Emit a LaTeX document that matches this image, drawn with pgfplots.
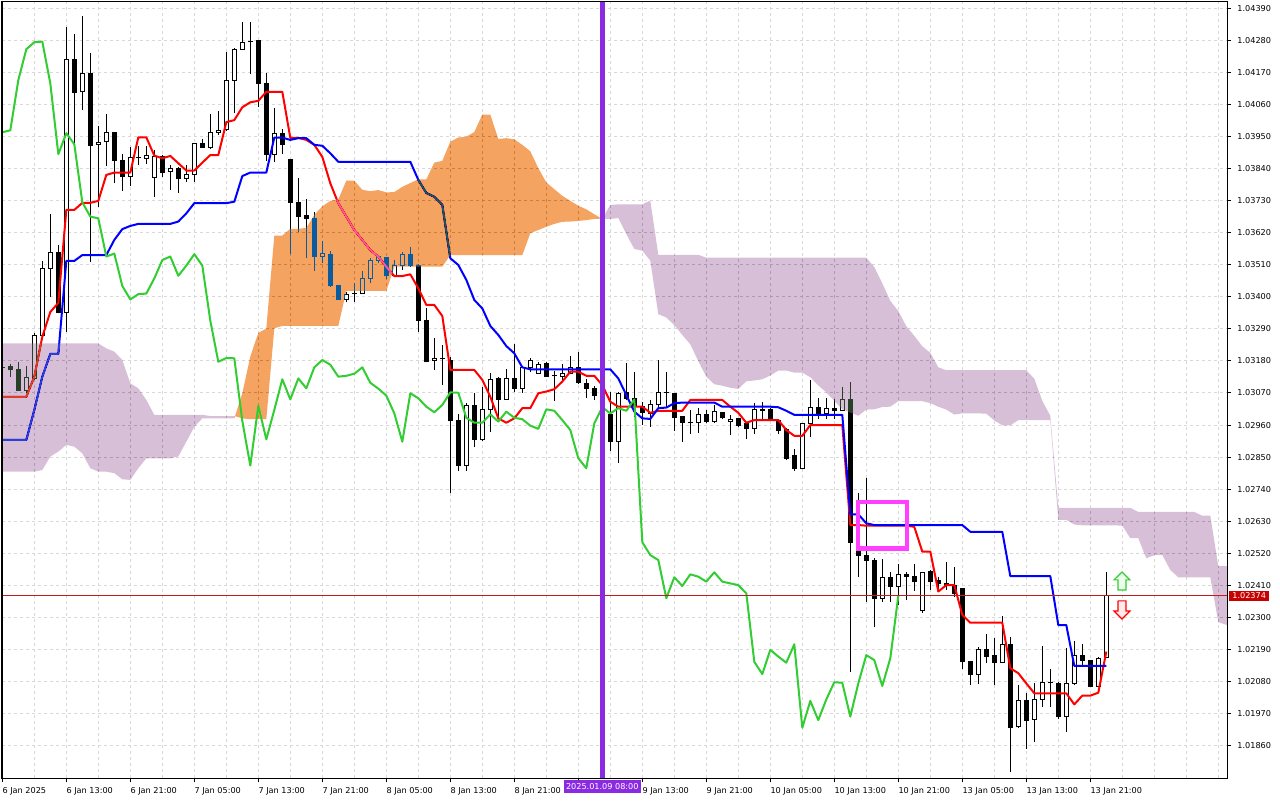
\documentclass[border=0pt]{standalone}
\usepackage{pgfplots}
\pgfplotsset{compat=1.18}
\usepackage{pgfplotstable}
\usepackage{fontspec}
\newfontfamily\tf{DejaVu Sans}
\definecolor{gridc}{RGB}{216,216,216}
\definecolor{kumoup}{RGB}{11,91,159}
\definecolor{kumodn}{RGB}{39,64,39}
\definecolor{vline}{RGB}{138,43,226}
\definecolor{chik}{RGB}{50,205,50}
\definecolor{mag}{RGB}{255,64,255}
\definecolor{pricered}{RGB}{200,0,0}
\definecolor{bidline}{RGB}{190,30,30}

\pgfplotstableread{
i o h l c
3 1.03080 1.03163 1.03071 1.03124
4 1.03120 1.03277 1.03115 1.03267
5 1.03267 1.03524 1.03258 1.03498
6 1.03498 1.03684 1.03398 1.03553
8 1.03347 1.04324 1.03280 1.04215
10 1.04103 1.04363 1.04041 1.04167
12 1.03923 1.03986 1.03709 1.03930
13 1.03932 1.04027 1.03849 1.03964
16 1.03812 1.03915 1.03781 1.03878
18 1.03875 1.03917 1.03855 1.03885
19 1.03810 1.03903 1.03741 1.03880
21 1.03830 1.03852 1.03766 1.03841
23 1.03806 1.03852 1.03795 1.03821
24 1.03821 1.03927 1.03795 1.03924
26 1.03913 1.04027 1.03907 1.03964
27 1.03963 1.04037 1.03955 1.03971
28 1.03972 1.04241 1.03970 1.04143
29 1.04143 1.04254 1.04029 1.04249
30 1.04249 1.04342 1.04247 1.04273
34 1.03889 1.04047 1.03861 1.03961
40 1.03539 1.03591 1.03515 1.03548
43 1.03392 1.03418 1.03381 1.03409
45 1.03412 1.03488 1.03410 1.03463
46 1.03463 1.03532 1.03448 1.03526
47 1.03524 1.03543 1.03517 1.03538
49 1.03472 1.03526 1.03469 1.03507
50 1.03507 1.03555 1.03492 1.03546
54 1.03183 1.03258 1.03149 1.03190
58 1.02820 1.03035 1.02804 1.03026
60 1.02909 1.03092 1.02906 1.03012
61 1.03012 1.03140 1.02937 1.03117
63 1.03048 1.03151 1.03046 1.03120
65 1.03086 1.03160 1.03071 1.03158
66 1.03158 1.03191 1.03143 1.03183
67 1.03138 1.03175 1.03135 1.03167
70 1.03128 1.03169 1.03112 1.03136
71 1.03138 1.03197 1.03135 1.03158
77 1.02903 1.03075 1.02831 1.03069
81 1.03000 1.03046 1.02954 1.03029
82 1.03029 1.03183 1.03023 1.03072
87 1.02968 1.03018 1.02934 1.02997
89 1.02972 1.03029 1.02968 1.03006
91 1.02973 1.02995 1.02926 1.02980
94 1.02949 1.03037 1.02929 1.03014
100 1.02812 1.02968 1.02808 1.02966
101 1.02966 1.03115 1.02920 1.03021
103 1.03000 1.03052 1.02981 1.03018
105 1.03009 1.03092 1.03009 1.03048
110 1.02366 1.02501 1.02354 1.02438
112 1.02408 1.02484 1.02343 1.02448
115 1.02323 1.02457 1.02316 1.02455
122 1.02106 1.02198 1.02072 1.02189
125 1.02145 1.02305 1.02143 1.02208
127 1.01925 1.02068 1.01922 1.02014
129 1.01951 1.02076 1.01874 1.02019
130 1.02019 1.02202 1.01994 1.02078
133 1.01960 1.02194 1.01908 1.02074
134 1.02074 1.02220 1.02068 1.02171
137 1.02065 1.02165 1.02063 1.02160
138 1.02164 1.02457 1.02164 1.02374
}\bull

\pgfplotstableread{
i o h l c
0 1.03157 1.03160 1.03153 1.03157
1 1.03160 1.03170 1.03126 1.03149
2 1.03149 1.03177 1.03078 1.03080
7 1.03553 1.03578 1.03343 1.03347
9 1.04215 1.04301 1.03927 1.04101
11 1.04167 1.04237 1.03520 1.03918
14 1.03964 1.03966 1.03789 1.03867
15 1.03869 1.03890 1.03764 1.03812
17 1.03878 1.03917 1.03852 1.03878
20 1.03880 1.03886 1.03812 1.03826
22 1.03841 1.03846 1.03757 1.03804
25 1.03924 1.03940 1.03909 1.03913
31 1.04275 1.04342 1.04163 1.04275
32 1.04278 1.04278 1.04050 1.04132
33 1.04132 1.04167 1.03867 1.03889
35 1.03961 1.03976 1.03889 1.03923
36 1.03872 1.03872 1.03546 1.03724
37 1.03724 1.03806 1.03621 1.03675
38 1.03678 1.03735 1.03532 1.03669
39 1.03667 1.03690 1.03490 1.03538
41 1.03546 1.03557 1.03435 1.03437
42 1.03437 1.03440 1.03389 1.03391
44 1.03411 1.03446 1.03383 1.03411
48 1.03535 1.03538 1.03460 1.03472
51 1.03546 1.03570 1.03501 1.03507
52 1.03507 1.03512 1.03280 1.03318
53 1.03318 1.03360 1.03175 1.03177
55 1.03189 1.03235 1.03097 1.03189
56 1.03181 1.03195 1.02726 1.02974
57 1.02974 1.02997 1.02804 1.02821
59 1.03026 1.03069 1.02884 1.02911
62 1.03120 1.03126 1.02983 1.03048
64 1.03120 1.03237 1.03075 1.03086
68 1.03172 1.03177 1.03124 1.03126
69 1.03129 1.03146 1.03044 1.03129
72 1.03158 1.03210 1.03101 1.03105
73 1.03103 1.03118 1.03052 1.03085
74 1.03086 1.03095 1.03046 1.03061
75 1.03061 1.03097 1.02990 1.03000
76 1.02995 1.03075 1.02872 1.02903
78 1.03072 1.03172 1.03046 1.03052
79 1.03052 1.03142 1.02989 1.03023
80 1.03023 1.03040 1.02960 1.03004
83 1.03071 1.03141 1.03023 1.03071
84 1.03069 1.03069 1.02941 1.02985
85 1.02991 1.02991 1.02903 1.02968
86 1.02968 1.03012 1.02929 1.02968
88 1.02997 1.03012 1.02966 1.02972
90 1.03004 1.03006 1.02980 1.02985
92 1.02981 1.02983 1.02952 1.02958
93 1.02964 1.02968 1.02912 1.02947
95 1.03014 1.03040 1.02977 1.03009
96 1.03012 1.03018 1.02975 1.02977
97 1.02977 1.02981 1.02928 1.02943
98 1.02946 1.02949 1.02840 1.02846
99 1.02854 1.02878 1.02804 1.02812
102 1.03021 1.03052 1.02981 1.03000
104 1.03018 1.03048 1.02981 1.03009
106 1.03048 1.03109 1.02114 1.02558
107 1.02531 1.02726 1.02440 1.02514
108 1.02514 1.02777 1.02354 1.02497
109 1.02497 1.02503 1.02266 1.02366
111 1.02438 1.02457 1.02354 1.02408
113 1.02449 1.02457 1.02360 1.02440
114 1.02442 1.02484 1.02392 1.02423
116 1.02457 1.02463 1.02394 1.02423
117 1.02426 1.02440 1.02389 1.02417
118 1.02417 1.02491 1.02394 1.02411
119 1.02411 1.02474 1.02371 1.02383
120 1.02398 1.02398 1.02122 1.02148
121 1.02148 1.02148 1.02068 1.02106
123 1.02189 1.02243 1.02143 1.02166
124 1.02169 1.02231 1.02068 1.02145
126 1.02206 1.02234 1.01769 1.01922
128 1.02014 1.02040 1.01849 1.01948
131 1.02076 1.02123 1.01994 1.02076
132 1.02074 1.02080 1.01951 1.01960
135 1.02171 1.02209 1.02131 1.02154
136 1.02154 1.02154 1.02063 1.02065
}\bear

\begin{document}
\begin{tikzpicture}
\fill[white] (-1.5pt,-16.5pt) rectangle (958.5pt,583.5pt);
\useasboundingbox (-1.5pt,-16.5pt) rectangle (958.5pt,583.5pt);
\begin{axis}[
  at={(0pt,0pt)}, anchor=south west,
  scale only axis, width=918.75pt, height=582pt,
  xmin=-0.04, xmax=153.09, ymin=1.017495, ymax=1.04411,
  clip mode=individual,
  axis line style={line width=0.75pt, black},
  tick align=outside, major tick length=3pt, minor tick length=0pt,
  major tick style={line width=0.75pt, black},
  xtick pos=bottom, ytick pos=right, yticklabel pos=right,
  xtick={0,8,16,24,32,40,48,56,64,72,80,88,96,104,112,120,128,136},
  xticklabels={6 Jan 2025,6 Jan 13:00,6 Jan 21:00,7 Jan 05:00,7 Jan 13:00,7 Jan 21:00,8 Jan 05:00,8 Jan 13:00,8 Jan 21:00,{},9 Jan 13:00,9 Jan 21:00,10 Jan 05:00,10 Jan 13:00,10 Jan 21:00,13 Jan 05:00,13 Jan 13:00,13 Jan 21:00},
  minor xtick={4,8,12,16,20,24,28,32,36,40,44,48,52,56,60,64,68,72,76,80,84,88,92,96,100,104,108,112,116,120,124,128,132,136,140,144,148,152},
  ytick={1.0186,1.0197,1.0208,1.0219,1.0230,1.0241,1.0252,1.0263,1.0274,1.0285,1.0296,1.0307,1.0318,1.0329,1.0340,1.0351,1.0362,1.0373,1.0384,1.0395,1.0406,1.0417,1.0428,1.0439},
  yticklabels={1.01860,1.01970,1.02080,1.02190,1.02300,1.02410,1.02520,1.02630,1.02740,1.02850,1.02960,1.03070,1.03180,1.03290,1.03400,1.03510,1.03620,1.03730,1.03840,1.03950,1.04060,1.04170,1.04280,1.04390},
  xmajorgrids=false, xminorgrids=true, ymajorgrids=true,
  major grid style={gridc, line width=0.75pt, dash pattern=on 2.25pt off 2.25pt},
  minor grid style={gridc, line width=0.75pt, dash pattern=on 2.25pt off 2.25pt},
  tick label style={font=\tf\fontsize{6.1}{7}\selectfont, inner sep=0pt},
  xticklabel style={anchor=north west, yshift=-4pt},
  yticklabel style={anchor=west, xshift=4.6pt},
]
% wicks
\addplot[draw=none, error bars/.cd, y dir=plus, y explicit, error mark=none,
  error bar style={draw=black, line width=0.75pt}]
  table[x=i, y=l, y error plus expr=\thisrow{h}-\thisrow{l}] {\bull};
\addplot[draw=none, error bars/.cd, y dir=plus, y explicit, error mark=none,
  error bar style={draw=black, line width=0.75pt}]
  table[x=i, y=l, y error plus expr=\thisrow{h}-\thisrow{l}] {\bear};
% bodies
\addplot[draw=none, error bars/.cd, y dir=plus, y explicit, error mark=none,
  error bar style={draw=black, line width=3.75pt}]
  table[x=i, y expr=\thisrow{o}-0.0000172, y error plus expr=\thisrow{c}-\thisrow{o}+0.0000343] {\bull};
\addplot[draw=none, error bars/.cd, y dir=plus, y explicit, error mark=none,
  error bar style={draw=white, line width=2.25pt}]
  table[x=i, y expr=\thisrow{o}+0.0000172, y error plus expr=\thisrow{c}-\thisrow{o}-0.0000343] {\bull};
\addplot[draw=none, error bars/.cd, y dir=plus, y explicit, error mark=none,
  error bar style={draw=black, line width=3.75pt}]
  table[x=i, y expr=\thisrow{c}-0.0000172, y error plus expr=\thisrow{o}-\thisrow{c}+0.0000343] {\bear};
% tenkan
\addplot[red, line width=1.5pt, line join=round] coordinates {
(0,1.03057)(3,1.03057)(4,1.03126)(5,1.03263)(6,1.03348)(7,1.03379)(8,1.03698)(9,1.03698)(10,1.03722)(11,1.03722)(12,1.03729)(13,1.03818)(14,1.03826)(16,1.03826)(17,1.03947)(18,1.03947)(19,1.03884)(20,1.03875)(21,1.03883)(22,1.03858)(23,1.03833)(24,1.03833)(25,1.03860)(26,1.03886)(27,1.03886)(28,1.03999)(29,1.04006)(30,1.04050)(31,1.04067)(32,1.04072)(33,1.04103)(35,1.04103)(36,1.03945)(37,1.03945)(38,1.03938)(39,1.03921)(40,1.03880)(41,1.03789)(42,1.03721)(43,1.03675)(44,1.03629)(45,1.03595)(46,1.03560)(47,1.03538)(48,1.03503)(49,1.03471)(50,1.03471)(51,1.03477)(52,1.03429)(53,1.03372)(54,1.03372)(55,1.03334)(56,1.03149)(59,1.03149)(60,1.03115)(61,1.03057)(62,1.02983)(63,1.02968)(64,1.02983)(65,1.03018)(66,1.03018)(67,1.03069)(68,1.03075)(69,1.03083)(70,1.03109)(71,1.03143)(72,1.03143)(73,1.03129)(74,1.03129)(75,1.03097)(76,1.03040)(77,1.03023)(80,1.03023)(81,1.03002)(82,1.03009)(85,1.03009)(86,1.03046)(90,1.03046)(91,1.03023)(92,1.03002)(93,1.02968)(94,1.02977)(97,1.02977)(98,1.02943)(99,1.02923)(100,1.02923)(101,1.02960)(105,1.02960)(106,1.02617)(107,1.02617)(108,1.02615)(113,1.02615)(114,1.02611)(115,1.02526)(116,1.02526)(117,1.02389)(118,1.02411)(119,1.02411)(120,1.02309)(121,1.02282)(125,1.02282)(126,1.02126)(127,1.02109)(128,1.02074)(129,1.02040)(133,1.02040)(134,1.02002)(135,1.02032)(136,1.02032)(137,1.02042)(138,1.02183)};
% kijun
\addplot[blue, line width=1.5pt, line join=round] coordinates {
(0,1.02909)(3,1.02909)(4,1.03012)(5,1.03126)(6,1.03204)(7,1.03204)(8,1.03523)(9,1.03523)(10,1.03543)(13,1.03543)(14,1.03595)(15,1.03632)(16,1.03643)(17,1.03650)(21,1.03650)(22,1.03658)(23,1.03686)(24,1.03721)(28,1.03721)(29,1.03726)(30,1.03814)(31,1.03826)(33,1.03826)(34,1.03946)(35,1.03946)(36,1.03938)(37,1.03944)(38,1.03944)(39,1.03921)(40,1.03918)(41,1.03892)(42,1.03863)(51,1.03863)(52,1.03801)(53,1.03756)(54,1.03743)(55,1.03715)(56,1.03532)(57,1.03509)(58,1.03458)(59,1.03389)(60,1.03360)(61,1.03300)(62,1.03269)(63,1.03231)(64,1.03206)(65,1.03158)(66,1.03151)(76,1.03151)(77,1.03120)(78,1.03063)(79,1.03006)(80,1.02983)(81,1.02981)(82,1.03018)(83,1.03020)(84,1.03035)(85,1.03037)(89,1.03037)(90,1.03023)(96,1.03023)(97,1.03021)(98,1.03009)(99,1.02995)(105,1.02995)(106,1.02654)(107,1.02654)(108,1.02623)(109,1.02617)(120,1.02617)(121,1.02594)(125,1.02594)(126,1.02442)(131,1.02442)(132,1.02274)(133,1.02274)(134,1.02134)(138,1.02134)};
% kumo (drawn as in the terminal: difference blending)
\addplot[draw=none, fill=kumodn, blend mode=difference] coordinates {
(-1,1.03240)(12,1.03240)(13,1.03223)(14,1.03212)(15,1.03183)(16,1.03103)(17,1.03086)(18,1.03046)(19,1.02995)(25,1.02995)(26,1.02991)(29,1.02991)
(29,1.02983)(25,1.02983)(24,1.02954)(23,1.02903)(22,1.02852)(21,1.02846)(18,1.02846)(17,1.02812)(16,1.02772)(15,1.02774)(14,1.02795)(13,1.02800)(12,1.02800)(11,1.02812)(10,1.02863)(9,1.02886)(8,1.02892)(7,1.02869)(6,1.02852)(5,1.02806)(4,1.02800)(-1,1.02800)};
\addplot[draw=none, fill=kumoup, blend mode=difference] coordinates {
(29,1.02983)(30,1.03069)(31,1.03195)(32,1.03276)(33,1.03291)(34,1.03610)(35,1.03610)(36,1.03633)(37,1.03633)(38,1.03636)(39,1.03681)(40,1.03710)(41,1.03729)(42,1.03734)(43,1.03798)(44,1.03798)(45,1.03767)(46,1.03762)(47,1.03766)(48,1.03758)(49,1.03759)(50,1.03777)(51,1.03790)(52,1.03803)(53,1.03803)(54,1.03860)(55,1.03866)(56,1.03932)(57,1.03946)(58,1.03949)(59,1.03965)(60,1.04025)(61,1.04025)(62,1.03941)(63,1.03944)(64,1.03940)(65,1.03921)(66,1.03899)(67,1.03841)(68,1.03792)(69,1.03769)(70,1.03746)(71,1.03729)(72,1.03712)(73,1.03700)(74,1.03683)(75,1.03667)
(75,1.03668)(74,1.03667)(73,1.03663)(72,1.03660)(71,1.03658)(70,1.03657)(69,1.03650)(68,1.03640)(67,1.03629)(66,1.03618)(65,1.03543)(56,1.03543)(55,1.03503)(49,1.03503)(48,1.03420)(43,1.03420)(42,1.03300)(35,1.03300)(34,1.03292)(33,1.02980)(31,1.02980)(30,1.02983)(29,1.02991)};
\addplot[draw=none, fill=kumodn, blend mode=difference] coordinates {
(75,1.03668)(76,1.03715)(77,1.03717)(80,1.03717)(81,1.03730)(82,1.03544)(87,1.03544)(88,1.03534)(108,1.03534)(109,1.03502)(110,1.03446)(111,1.03386)(112,1.03351)(113,1.03299)(114,1.03266)(115,1.03230)(116,1.03208)(117,1.03158)(118,1.03148)(128,1.03148)(129,1.03119)(130,1.03043)(131,1.02992)(132,1.02676)(141,1.02676)(142,1.02662)(149,1.02662)(150,1.02649)(151,1.02649)(152,1.02476)(155,1.02476)
(155,1.02275)(153,1.02275)(152,1.02284)(151,1.02438)(147,1.02438)(146,1.02463)(145,1.02514)(144,1.02514)(143,1.02503)(142,1.02572)(141,1.02572)(140,1.02615)(139,1.02616)(135,1.02616)(134,1.02619)(133,1.02635)(132,1.02635)(131,1.02977)(127,1.02977)(126,1.02959)(125,1.02959)(124,1.02976)(123,1.02999)(122,1.03000)(120,1.03000)(119,1.02996)(118,1.03013)(117,1.03023)(116,1.03035)(115,1.03042)(112,1.03042)(111,1.03023)(110,1.03022)(109,1.03014)(108,1.03013)(107,1.02992)(106,1.03003)(105,1.03014)(104,1.03043)(103,1.03072)(102,1.03096)(101,1.03124)(100,1.03140)(99,1.03140)(98,1.03147)(97,1.03147)(96,1.03130)(95,1.03117)(94,1.03113)(93,1.03110)(92,1.03084)(91,1.03088)(90,1.03095)(89,1.03100)(88,1.03126)(87,1.03179)(86,1.03237)(85,1.03269)(84,1.03303)(83,1.03329)(82,1.03340)(81,1.03524)(80,1.03558)(79,1.03564)(78,1.03615)(77,1.03670)(76,1.03667)(75,1.03667)};
% chikou
\addplot[chik, line width=1.5pt, line join=round] coordinates {
(0,1.03964)(1,1.03971)(2,1.04143)(3,1.04249)(4,1.04273)(5,1.04275)(6,1.04132)(7,1.03889)(8,1.03961)(9,1.03923)(10,1.03724)(11,1.03675)(12,1.03669)(13,1.03538)(14,1.03548)(15,1.03437)(16,1.03391)(17,1.03409)(18,1.03411)(19,1.03463)(20,1.03526)(21,1.03538)(22,1.03472)(23,1.03507)(24,1.03546)(25,1.03507)(26,1.03318)(27,1.03177)(28,1.03190)(29,1.03189)(30,1.02974)(31,1.02821)(32,1.03026)(33,1.02911)(34,1.03012)(35,1.03117)(36,1.03048)(37,1.03120)(38,1.03086)(39,1.03158)(40,1.03183)(41,1.03167)(42,1.03126)(43,1.03129)(44,1.03136)(45,1.03158)(46,1.03105)(47,1.03085)(48,1.03061)(49,1.03000)(50,1.02903)(51,1.03069)(52,1.03052)(53,1.03023)(54,1.03004)(55,1.03029)(56,1.03072)(57,1.03071)(58,1.02985)(59,1.02968)(60,1.02968)(61,1.02997)(62,1.02972)(63,1.03006)(64,1.02985)(65,1.02980)(66,1.02958)(67,1.02947)(68,1.03014)(69,1.03009)(70,1.02977)(71,1.02943)(72,1.02846)(73,1.02812)(74,1.02966)(75,1.03021)(76,1.03000)(77,1.03018)(78,1.03009)(79,1.03048)(80,1.02558)(81,1.02514)(82,1.02497)(83,1.02366)(84,1.02438)(85,1.02408)(86,1.02448)(87,1.02440)(88,1.02423)(89,1.02455)(90,1.02423)(91,1.02417)(92,1.02411)(93,1.02383)(94,1.02148)(95,1.02106)(96,1.02189)(97,1.02166)(98,1.02145)(99,1.02208)(100,1.01922)(101,1.02014)(102,1.01948)(103,1.02019)(104,1.02078)(105,1.02076)(106,1.01960)(107,1.02074)(108,1.02171)(109,1.02154)(110,1.02065)(111,1.02160)(112,1.02374)};
% bid line
\addplot[bidline, line width=0.75pt] coordinates {(-1,1.02374)(155,1.02374)};
% vertical line at 2025.01.09 08:00
\addplot[vline, line width=3.75pt] coordinates {(75,1.0170)(75,1.0445)};
% rectangle object
\addplot[mag, line width=3.2pt, line cap=rect, line join=miter] coordinates {(106.99,1.026955)(113.06,1.026955)(113.06,1.025366)(106.99,1.025366)(106.99,1.026955)};
% arrows
\addplot[chik, line width=0.9pt, fill=green!8, line join=miter] coordinates {(139.96,1.02456)(140.96,1.02429)(140.46,1.02429)(140.46,1.02394)(139.46,1.02394)(139.46,1.02429)(138.96,1.02429)(139.96,1.02456)};
\addplot[red, line width=0.9pt, fill=red!8, line join=miter] coordinates {(139.46,1.02357)(140.46,1.02357)(140.46,1.02322)(140.96,1.02322)(139.96,1.02295)(138.96,1.02322)(139.46,1.02322)(139.46,1.02357)};
\draw[black, line width=0.75pt] (rel axis cs:0,0) rectangle (rel axis cs:1,1);
\node[fill=pricered, text=white, font=\tf\fontsize{6.1}{7}\selectfont, anchor=west, inner xsep=2.2pt, inner ysep=0pt, minimum height=7.6pt, xshift=1.6pt] at (axis cs:153.09,1.02374) {1.02374};
\node[fill=vline, text=white, font=\tf\fontsize{6.1}{7}\selectfont, anchor=north, inner xsep=1.6pt, inner ysep=2.6pt, yshift=-1.5pt] at (axis cs:75,1.017495) {2025.01.09 08:00};
\end{axis}
\end{tikzpicture}
\end{document}
